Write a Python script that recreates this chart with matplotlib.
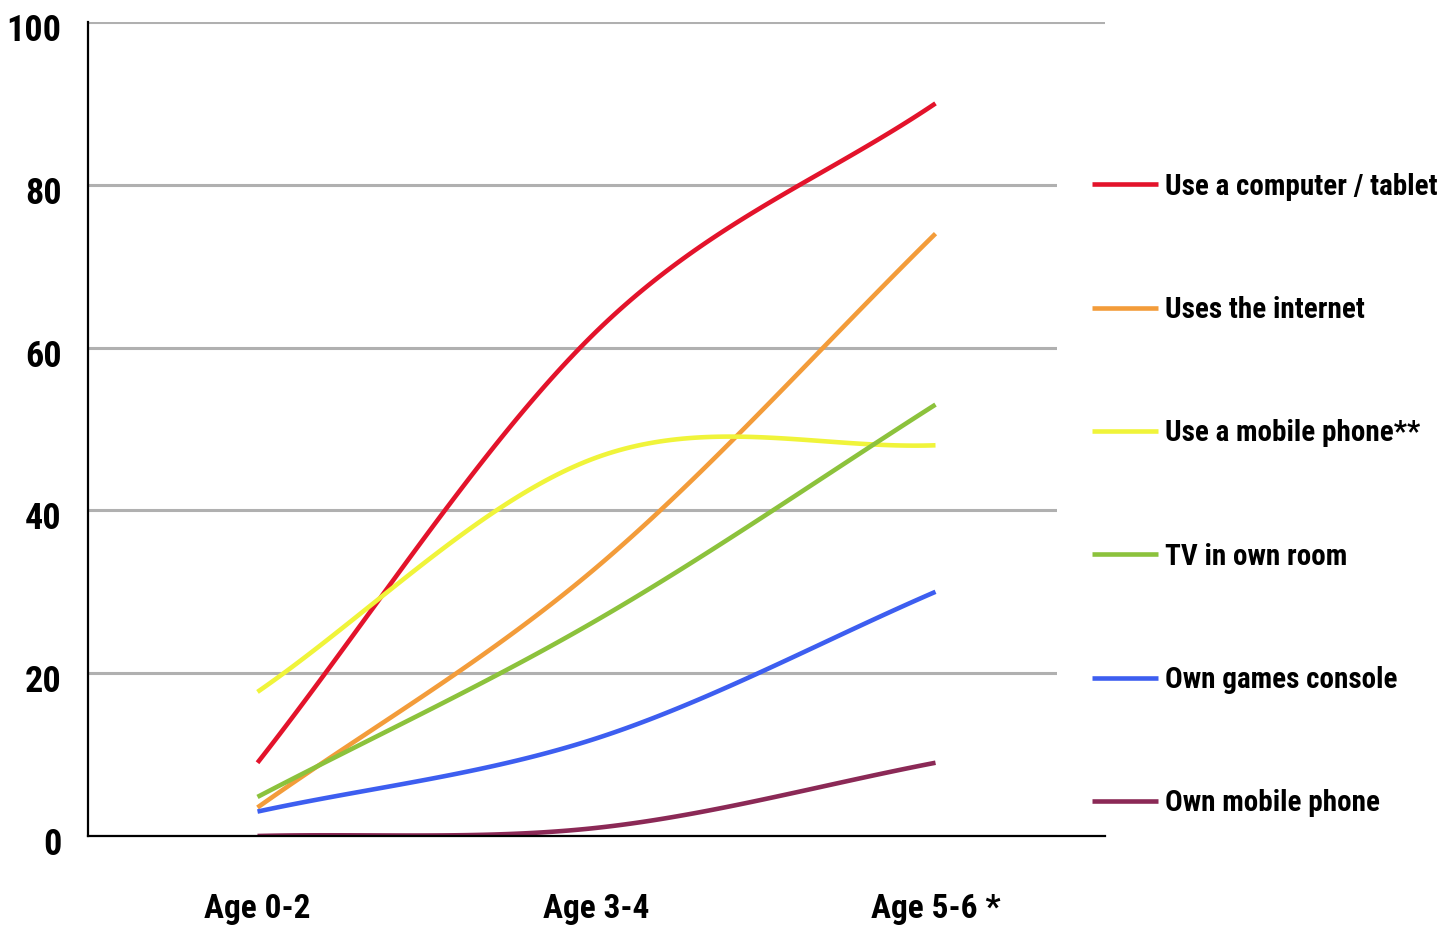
import numpy as np
import matplotlib
matplotlib.use("Agg")
import matplotlib.pyplot as plt
from matplotlib.transforms import ScaledTranslation

# Survey data: share of children (%) by age group
age_groups = ["Age 0-2", "Age 3-4", "Age 5-6 *"]
computer_tablet = [9, 62, 90]
uses_internet = [3.5, 33, 74]
use_mobile = [17.7, 46.5, 48]
tv_own_room = [4.8, 26.5, 53]
games_console = [3, 12, 30]
own_mobile = [0, 1, 9]

series_names = ["Use a computer / tablet", "Uses the internet", "Use a mobile phone**",
                "TV in own room", "Own games console", "Own mobile phone"]
series_values = [computer_tablet, uses_internet, use_mobile,
                 tv_own_room, games_console, own_mobile]
series_colors = ["#e3132b", "#f39c3a", "#f0f43a", "#8cc23c", "#3d5ef0", "#8b2956"]

plt.rcParams["font.family"] = ["Roboto Condensed", "Liberation Sans Narrow",
                               "DejaVu Sans Condensed", "DejaVu Sans"]
plt.rcParams["font.weight"] = "bold"


def smooth(y, n=60):
    """Cardinal (Catmull-Rom) cubic through the points, as spreadsheet 'smoothed lines' do."""
    y = np.asarray(y, dtype=float)
    x = np.arange(len(y), dtype=float)
    m = np.empty_like(y)
    m[1:-1] = (y[2:] - y[:-2]) / 2.0
    m[0] = y[1] - y[0]
    m[-1] = y[-1] - y[-2]
    xs, ys = [], []
    for i in range(len(y) - 1):
        t = np.linspace(0, 1, n, endpoint=(i == len(y) - 2))
        h00 = 2 * t**3 - 3 * t**2 + 1
        h10 = t**3 - 2 * t**2 + t
        h01 = -2 * t**3 + 3 * t**2
        h11 = t**3 - t**2
        xs.append(x[i] + t)
        ys.append(h00 * y[i] + h10 * m[i] + h01 * y[i + 1] + h11 * m[i + 1])
    return np.concatenate(xs), np.concatenate(ys)


W, H = 1447, 933
fig = plt.figure(figsize=(W / 100, H / 100), dpi=100)
ax = fig.add_axes([88 / W, 97 / H, (1105 - 88) / W, 814 / H])

for name, vals, col in zip(series_names, series_values, series_colors):
    sx, sy = smooth(vals)
    ax.plot(sx, sy, color=col, lw=3.3, label=name, solid_capstyle="butt", zorder=3)

ax.set_xlim(-0.5, 2.5)
ax.set_ylim(0, 100)
ax.set_yticks([0, 20, 40, 60, 80, 100])
ax.set_xticks(range(len(age_groups)))
ax.set_xticklabels(age_groups)

ax.grid(axis="y", color="#b0b0b0", lw=2.2)
ax.grid(axis="x", visible=False)
ax.set_axisbelow(True)
for s in ("top", "right"):
    ax.spines[s].set_visible(False)
for s in ("left", "bottom"):
    ax.spines[s].set_color("black")
    ax.spines[s].set_linewidth(1.6)
    ax.spines[s].set_zorder(4)

ax.tick_params(axis="y", length=0, pad=19, labelsize=26)
ax.tick_params(axis="x", length=0, pad=41, labelsize=24)
shift = ScaledTranslation(0, -5 / 100, fig.dpi_scale_trans)
for lbl in ax.get_yticklabels():
    lbl.set_transform(lbl.get_transform() + shift)

fs = 21
fs_px = fs * 100 / 72
leg = ax.legend(loc="center left", bbox_to_anchor=(1057 / W, 438 / H),
                bbox_transform=fig.transFigure, borderaxespad=0,
                frameon=True, facecolor="white", edgecolor="none", framealpha=1,
                fancybox=False, fontsize=fs, handlelength=66 / fs_px,
                handletextpad=7 / fs_px, labelspacing=3.27, borderpad=35 / fs_px)
leg.set_zorder(3.5)
for line in leg.get_lines():
    line.set_linewidth(3.3)

fig.savefig("out.png", dpi=100)
